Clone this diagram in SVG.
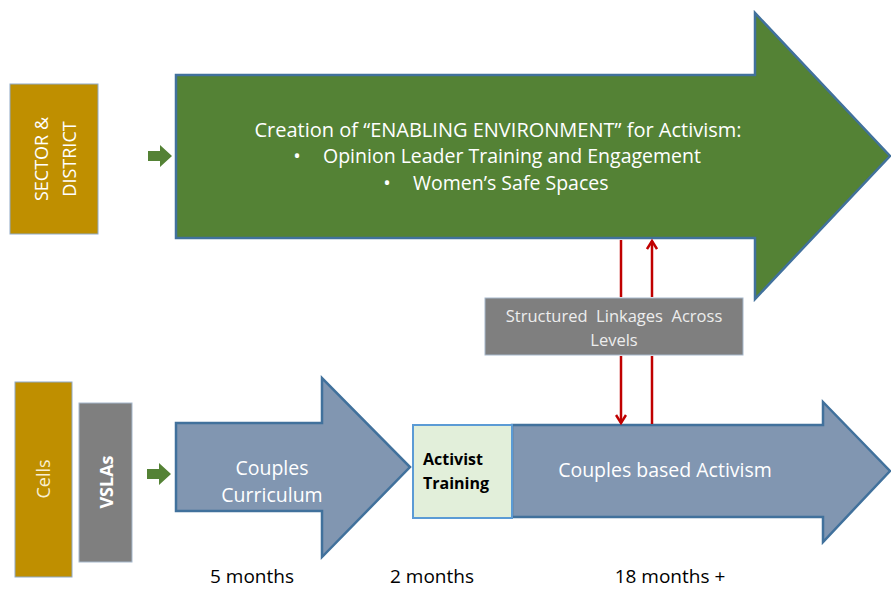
<svg xmlns="http://www.w3.org/2000/svg" width="891" height="591" viewBox="0 0 891 591">
<style>
.gold{fill:#BF8F00;stroke:#8FAAC8;stroke-width:1}
.gray{fill:#7F7F7F;stroke:#A6B8CC;stroke-width:1}
.green{fill:#548235;stroke:#41719C;stroke-width:2.5;stroke-linejoin:miter}
.blue{fill:#8196B1;stroke:#41719C;stroke-width:2.5;stroke-linejoin:miter}
.small{fill:#548235;stroke:none}
.t{font-family:"Open Sans","Liberation Sans",sans-serif;fill:#fff;text-anchor:middle}
.s{font-family:"Open Sans","Liberation Sans",sans-serif;fill:#fff;text-anchor:start}
.d{font-family:"Open Sans","Liberation Sans",sans-serif;fill:#000;text-anchor:middle;font-size:19px}
.red{stroke:#C00000;stroke-width:2.5;fill:none}
</style>
<defs>
<marker id="ah" viewBox="0 0 12 12" refX="10" refY="6" markerWidth="12" markerHeight="12" markerUnits="userSpaceOnUse" orient="auto">
<path d="M2,1 L10,6 L2,11" fill="none" stroke="#C00000" stroke-width="2.5"/>
</marker>
</defs>
<rect width="891" height="591" fill="#fff"/>

<g id="sector">
<rect class="gold" x="10" y="84" width="88" height="150"/>
<text class="t" font-size="18" transform="translate(54,159) rotate(-90)"><tspan x="0" y="-6">SECTOR &amp;</tspan><tspan x="0" y="22">DISTRICT</tspan></text>
</g>

<g id="cells">
<rect class="gold" x="15" y="382" width="57" height="195"/>
<text class="t" font-size="18" style="fill:#FAEFD2" transform="translate(50,479) rotate(-90)" x="0" y="0">Cells</text>
</g>

<g id="vslas">
<rect class="gray" x="79" y="403" width="53" height="159"/>
<text class="t" font-size="18" font-weight="bold" transform="translate(113,482) rotate(-90)" x="0" y="0">VSLAs</text>
</g>

<g id="enabling">
<path class="green" d="M176,75 L755,75 L755,13 L890,156 L755,299 L755,238 L176,238 Z"/>
<text class="t" font-size="20" x="498" y="137">Creation of “ENABLING ENVIRONMENT” for Activism:</text>
<text class="t" font-size="20" x="297" y="163">•</text>
<text class="s" font-size="19.5" x="323" y="163">Opinion Leader Training and Engagement</text>
<text class="t" font-size="20" x="387" y="190">•</text>
<text class="s" font-size="19.5" x="413" y="190">Women’s Safe Spaces</text>
</g>

<g id="curriculum">
<path class="blue" d="M176,423 L322,423 L322,378 L410,467 L322,557 L322,511 L176,511 Z"/>
<text class="t" font-size="19.5"><tspan x="272" y="475">Couples</tspan><tspan x="272" y="502">Curriculum</tspan></text>
</g>

<g id="activism">
<path class="blue" d="M512,425 L823,425 L823,402 L890,471 L823,542 L823,517 L512,517 Z"/>
<text class="t" font-size="19.5" x="665" y="477">Couples based Activism</text>
</g>

<g id="training">
<rect x="413" y="425" width="99" height="93" fill="#E2EFDA" stroke="#5B9BD5" stroke-width="2"/>
<text font-family="'Open Sans','Liberation Sans',sans-serif" font-size="16" font-weight="bold" fill="#000"><tspan x="423" y="465">Activist</tspan><tspan x="423" y="489">Training</tspan></text>
</g>

<g id="linkages">
<rect class="gray" x="485" y="298" width="258" height="57"/>
<text class="t" font-size="16.5" style="fill:#EDEDED" xml:space="preserve"><tspan x="614" y="322">Structured  Linkages  Across</tspan><tspan x="614" y="346">Levels</tspan></text>
</g>

<g id="connectors">
<path class="small" d="M148,151 L160,151 L160,145 L172,156 L160,167 L160,161 L148,161 Z"/>
<path class="small" d="M147,469 L159,469 L159,463 L171,474 L159,485 L159,479 L147,479 Z"/>
<line class="red" x1="621" y1="240" x2="621" y2="297"/>
<line class="red" x1="621" y1="356" x2="621" y2="423" marker-end="url(#ah)"/>
<line class="red" x1="652" y1="424" x2="652" y2="356"/>
<line class="red" x1="652" y1="297" x2="652" y2="241" marker-end="url(#ah)"/>
</g>

<g id="durations">
<text class="d" x="252" y="583">5 months</text>
<text class="d" x="432" y="583">2 months</text>
<text class="d" x="670" y="583">18 months +</text>
</g>
</svg>
